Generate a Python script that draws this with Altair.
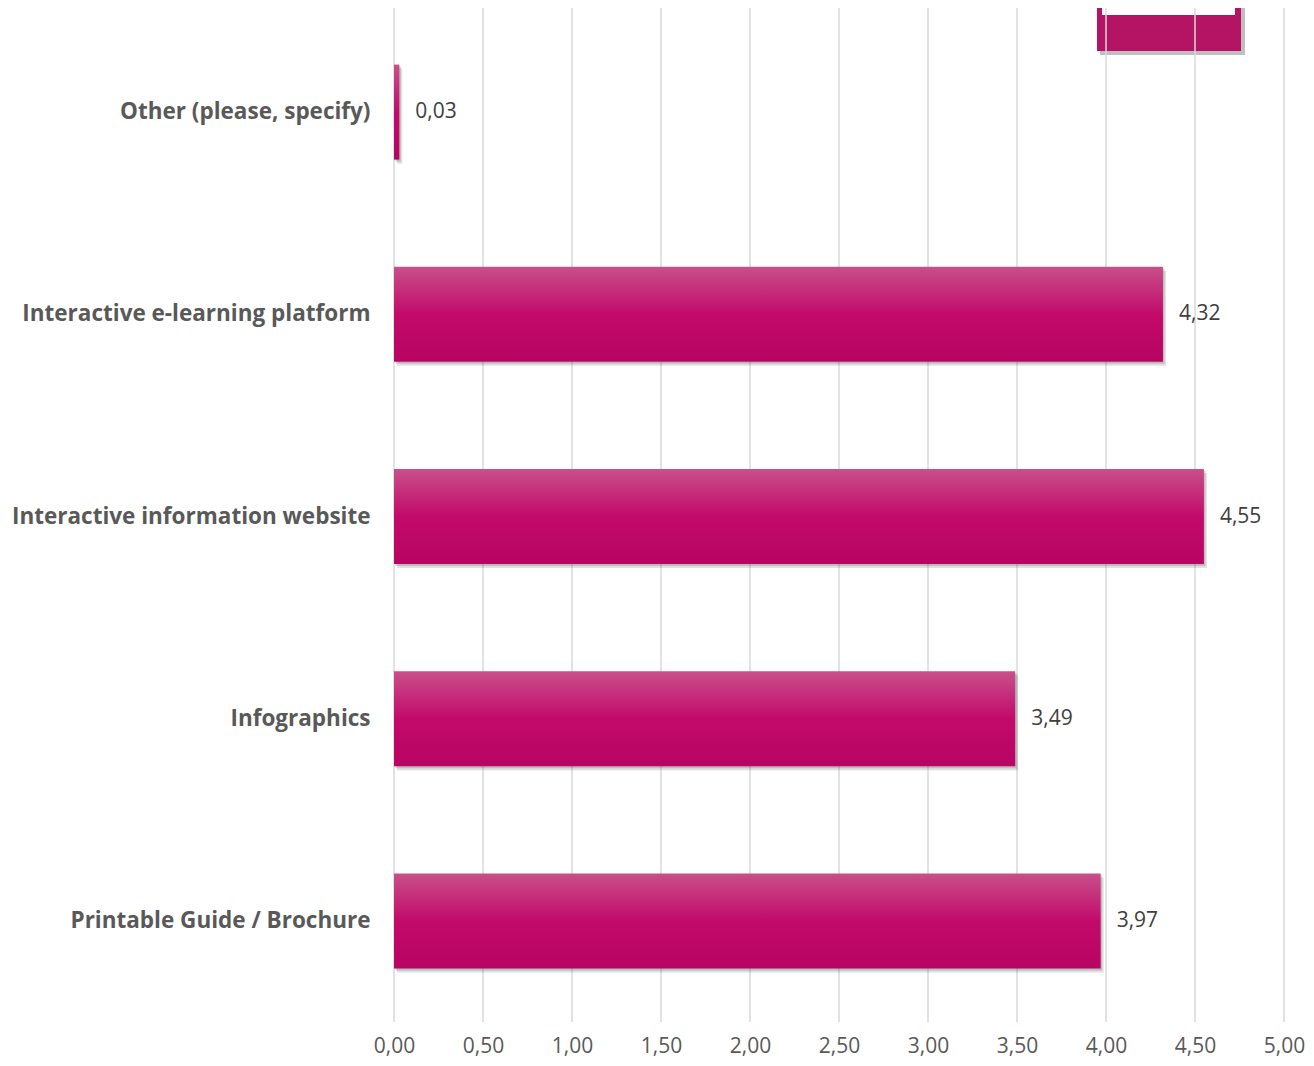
import altair as alt
import pandas as pd

categories = ["Other (please, specify)", "Interactive e-learning platform",
              "Interactive information website", "Infographics",
              "Printable Guide / Brochure"]
values = [0.03, 4.32, 4.55, 3.49, 3.97]
tick_values = [0, 0.5, 1, 1.5, 2, 2.5, 3, 3.5, 4, 4.5, 5]

df = pd.DataFrame({"cat": categories, "val": values})
grid_df = pd.DataFrame({"t": tick_values})

W, H = 890, 1011
FONT = "Open Sans"

xscale = alt.Scale(domain=[0, 5], nice=False, zero=True)
yscale = alt.Scale(domain=categories, paddingInner=0.53, paddingOuter=0.265)

fmt = "replace(format(datum.value, '.2f'), '.', ',')"

xaxis = alt.Axis(values=tick_values, labelExpr=fmt, title=None, grid=False,
                 ticks=False, domain=False, labelPadding=13, labelFontSize=21,
                 labelColor="#595959", labelFont=FONT, labelFlush=False,
                 labelOverlap=False)
yaxis = alt.Axis(title=None, ticks=False, domain=False, labelPadding=24,
                 labelFontSize=22.5, labelFontWeight="bold", labelColor="#595959",
                 labelFont=FONT, labelLimit=400, grid=False)

X = alt.X("val:Q", scale=xscale, axis=xaxis)
Y = alt.Y("cat:N", scale=yscale, sort=categories, axis=yaxis)

# decorative logo box (top right)
one = pd.DataFrame({"a": [0]})
logo_shadow = alt.Chart(one).mark_rect(color="#7f7f7f", opacity=0.5).encode(
    x=alt.value(706), x2=alt.value(851), y=alt.value(-3), y2=alt.value(44))
logo = alt.Chart(one).mark_rect(color="#B51464").encode(
    x=alt.value(703), x2=alt.value(847), y=alt.value(-3), y2=alt.value(40))
logo_white = alt.Chart(one).mark_rect(color="#FFFFFF").encode(
    x=alt.value(708), x2=alt.value(841), y=alt.value(-3), y2=alt.value(4))

grid = alt.Chart(grid_df).mark_rule(color="#D9D9D9", strokeWidth=1.5).encode(
    x=alt.X("t:Q", scale=xscale, axis=xaxis),
    y=alt.value(-3), y2=alt.value(H))

shadow1 = alt.Chart(df).mark_bar(color="#555555", opacity=0.18, xOffset=3, yOffset=4).encode(x=X, y=Y)
shadow2 = alt.Chart(df).mark_bar(color="#555555", opacity=0.25, xOffset=1.5, yOffset=2).encode(x=X, y=Y)

bars = alt.Chart(df).mark_bar(
    color=alt.Gradient(gradient="linear", x1=0, y1=0, x2=0, y2=1,
                       stops=[alt.GradientStop(offset=0, color="#C8508A"),
                              alt.GradientStop(offset=0.5, color="#C20A6B"),
                              alt.GradientStop(offset=1, color="#B80462")])
).encode(x=X, y=Y)

labels = alt.Chart(df).mark_text(align="left", baseline="middle", dx=16, fontSize=21,
                                 color="#404040", font=FONT).encode(
    x=X, y=Y, text=alt.Text("lbl:N")).transform_calculate(
    lbl="replace(format(datum.val, '.2f'), '.', ',')")

chart = alt.layer(logo_shadow, logo, logo_white, grid, shadow1, shadow2, bars, labels).properties(
    width=W, height=H,
    autosize=alt.AutoSizeParams(type="none"),
    padding={"left": 386, "top": 3, "right": 22, "bottom": 36},
    background="white",
).configure_view(stroke=None)

chart.save("out.html", embed_options={"renderer": "svg", "actions": False})
